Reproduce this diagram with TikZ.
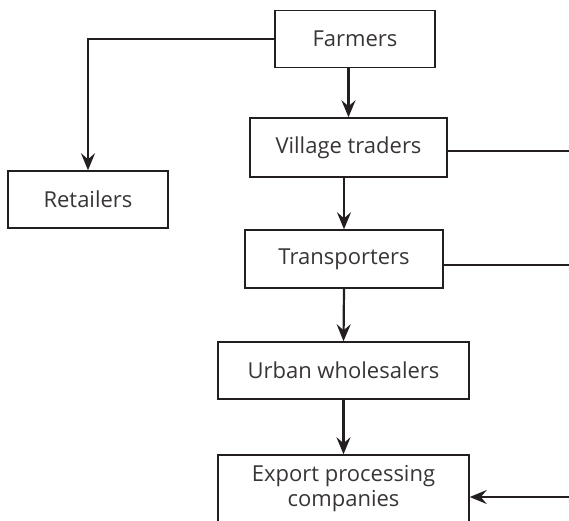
\documentclass[tikz,border=0pt]{standalone}
\usepackage{fontspec}
\setmainfont{Open Sans}
\usepackage{tikz}
\usetikzlibrary{arrows.meta}

\definecolor{ink}{RGB}{35,31,32}

\tikzset{
    box/.style={draw=ink, line width=1.5pt, fill=white, text=ink!90,
        inner sep=0pt, align=center,
        font=\fontsize{22}{25}\selectfont},
    link/.style={draw=ink, line width=2.2pt},
    flow/.style={link, -{Stealth[length=17pt,width=14pt,inset=6pt]}}
}

\begin{document}
\begin{tikzpicture}[x=1pt,y=-1pt]
    \clip (0,0) rectangle (569,520);

    \node[box, minimum width=160pt, minimum height=57pt] (farmers) at (355,39) {Farmers};
    \node[box, minimum width=160pt, minimum height=57pt] (retailers) at (88,199.5) {Retailers};
    \node[box, minimum width=197pt, minimum height=59pt] (village) at (348.5,147.5) {Village traders};
    \node[box, minimum width=198pt, minimum height=58pt] (transp) at (344,259) {Transporters};
    \node[box, minimum width=251pt, minimum height=57pt] (urban) at (343.5,370.5) {Urban wholesalers};
    \node[box, minimum width=251pt, minimum height=67pt] (export) at (343.5,488.5) {Export processing\\companies};

    \coordinate (vOut) at (569,151);
    \coordinate (tOut) at (569,265);
    \coordinate (xIn) at (569,497);

    \draw[flow] (farmers.west) -| (retailers.north);
    \draw[flow] (village.north |- farmers.south) -- (village.north);
    \draw[flow] (transp.north |- village.south) -- (transp.north);
    \draw[flow] (transp.south) -- (urban.north);
    \draw[flow] (urban.south) -- (export.north);

    \draw[link] (vOut -| village.east) -- (vOut);
    \draw[link] (tOut -| transp.east) -- (tOut);
    \draw[flow] (xIn) -- (xIn -| export.east);
\end{tikzpicture}
\end{document}
